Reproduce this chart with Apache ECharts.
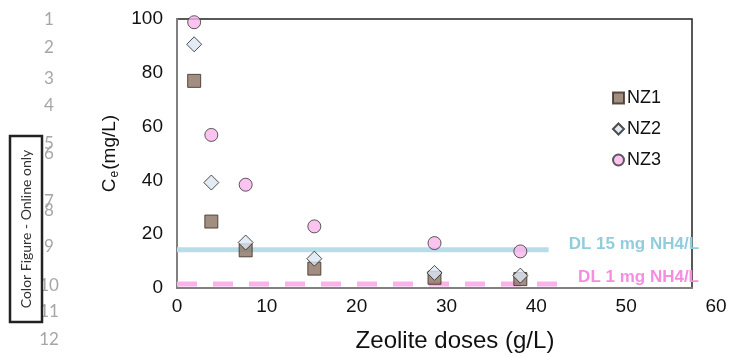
<!DOCTYPE html>
<html><head><meta charset="utf-8">
<script src="https://cdn.jsdelivr.net/npm/echarts@6/dist/echarts.min.js"></script>
<style>html,body{margin:0;padding:0;background:#fff}#c{width:731px;height:358px}</style>
</head><body><div id="c"></div>
<script>
var doses = [2, 4, 8, 16, 30, 40];
var nz1 = [77.0, 24.7, 14.0, 7.2, 3.8, 3.3];
var nz2 = [90.6, 39.2, 16.9, 10.9, 5.6, 4.6];
var nz3 = [98.8, 56.9, 38.4, 22.9, 16.7, 13.6];
var dl15 = [[0, 14.2], [43.3, 14.2]];
var dl1 = [[0, 1.5], [44.4, 1.5]];
var seriesNames = ['NZ1', 'NZ2', 'NZ3'];
var dlLabels = ['DL 15 mg NH4/L', 'DL 1 mg NH4/L'];
var lineNumbers = ['1','2','3','4','5','6','7','8','9','10','11','12'];
var lineNumberY = [20, 48, 79, 106, 144, 154, 202, 211, 247, 286, 312, 340];
var sideNote = 'Color Figure - Online only';

function pts(ys){ return doses.map(function(d,i){ return [d, ys[i]]; }); }

var chart = echarts.init(document.getElementById('c'), null, {renderer:'canvas'});
var font = '"Liberation Sans", Arial, sans-serif';
var graphics = lineNumbers.map(function(t,i){
  return {type:'text', x: 49, y: lineNumberY[i], z: 1,
    style:{text:t, fill:'#a6a6a6', font:'17px Lato, "Open Sans", sans-serif', textAlign:'center', textVerticalAlign:'middle'}};
});
graphics.push({type:'rect', shape:{x:10, y:136, width:32, height:186}, z: 2,
  style:{fill:'none', stroke:'#222', lineWidth:2.5}});
graphics.push({type:'text', x:26, y:229, rotation: Math.PI/2, z: 3,
  style:{text:sideNote, fill:'#333', font:'14px Lato, "Open Sans", sans-serif', textAlign:'center', textVerticalAlign:'middle'}});

var option = {
  animation:false,
  backgroundColor:'#fff',
  grid:[
    {left:177, right:39, top:19, bottom:70, show:true, borderColor:'#222', borderWidth:1.5, backgroundColor:'transparent'},
    {left:177, right:15, top:19, bottom:70}
  ],
  xAxis:[
    {type:'value', gridIndex:0, min:0, max:60, interval:10,
     axisLine:{show:true, onZero:false, lineStyle:{color:'#808080', width:2}},
     axisTick:{show:false}, axisLabel:{show:false}, splitLine:{show:false}},
    {type:'value', gridIndex:1, min:0, max:60, interval:10,
     axisLine:{show:false}, axisTick:{show:false}, splitLine:{show:false},
     axisLabel:{show:true, margin:14, fontSize:19, color:'#111', fontFamily:font},
     name:'Zeolite doses (g/L)', nameLocation:'middle', nameGap:46,
     nameTextStyle:{fontSize:24, color:'#111', fontFamily:font, padding:[0,0,0,17]}}
  ],
  yAxis:[
    {type:'value', gridIndex:0, min:0, max:100, interval:20,
     axisLine:{show:true, onZero:false, lineStyle:{color:'#808080', width:2}},
     axisTick:{show:false}, splitLine:{show:false},
     axisLabel:{show:true, margin:14, fontSize:19, color:'#111', fontFamily:font},
     name:'{a|C}{b|e}{a|(mg/L)}', nameLocation:'middle', nameGap:48, nameRotate:90,
     nameTextStyle:{rich:{
       a:{fontSize:19, color:'#111', fontFamily:font},
       b:{fontSize:12, color:'#111', fontFamily:font, verticalAlign:'bottom', padding:[9,1,0,1]}
     }}},
    {type:'value', gridIndex:1, min:0, max:100, show:false}
  ],
  legend:{
    orient:'vertical', left:607, top:84, itemGap:13, itemWidth:11, itemHeight:11,
    data:seriesNames,
    textStyle:{fontSize:18, color:'#111', fontFamily:font, lineHeight:18, padding:[0,0,0,-2]}
  },
  series:[
    {name:'DL15', type:'line', data:dl15, showSymbol:false, symbol:'none', silent:true,
     lineStyle:{color:'#b7dee8', width:5}, z:1,
     endLabel:{show:true, formatter:dlLabels[0], distance:20, offset:[0,-5], color:'#92cddc', fontSize:17, fontWeight:'bold', fontFamily:font}},
    {name:'DL1', type:'line', data:dl1, showSymbol:false, symbol:'none', silent:true,
     lineStyle:{color:'#f9b3e8', width:5, type:[20,16]}, z:1,
     endLabel:{show:true, formatter:dlLabels[1], distance:20, offset:[0,-7], color:'#f58ee0', fontSize:17, fontWeight:'bold', fontFamily:font}},
    {name:seriesNames[0], type:'scatter', data:pts(nz1), symbol:'rect', symbolSize:13, z:3,
     itemStyle:{color:'#8b7262', borderColor:'#3a2a20', borderWidth:1}},
    {name:seriesNames[1], type:'scatter', data:pts(nz2), symbol:'diamond', symbolSize:15, z:4,
     itemStyle:{color:'#dce6f2', borderColor:'#222', borderWidth:1}},
    {name:seriesNames[2], type:'scatter', data:pts(nz3), symbol:'circle', symbolSize:13, z:5,
     itemStyle:{color:'#f9b4ec', borderColor:'#333', borderWidth:1}}
  ],
  graphic:graphics
};
chart.setOption(option);
</script></body></html>
